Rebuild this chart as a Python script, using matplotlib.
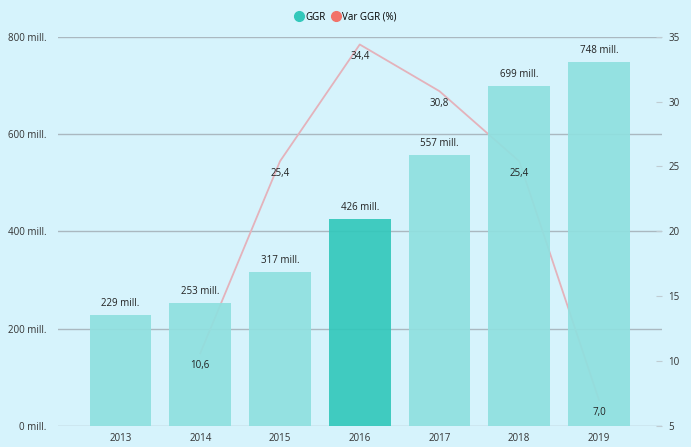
import matplotlib
matplotlib.use("Agg")
import matplotlib.pyplot as plt
from matplotlib.lines import Line2D

years = ["2013", "2014", "2015", "2016", "2017", "2018", "2019"]
ggr = [229, 253, 317, 426, 557, 699, 748]
var_years = ["2014", "2015", "2016", "2017", "2018", "2019"]
var_ggr = [10.6, 25.4, 34.4, 30.8, 25.4, 7.0]
highlight = "2016"

plt.rcParams['font.family'] = ['Open Sans', 'DejaVu Sans']

bg = "#d6f3fc"
bar_col = "#8fe0df"
hi_col = "#33c8bb"
line_col = "#e4b2bb"
grid_col = "#aab8c0"

fig = plt.figure(figsize=(6.91, 4.47), dpi=100, facecolor=bg)
ax = fig.add_axes([57.5/691, 1-426/447, (662-57.5)/691, (426-36.7)/447])
ax.set_facecolor(bg)
ax2 = ax.twinx()

x = list(range(len(years)))
xv = [years.index(y) for y in var_years]

# line behind bars: draw on ax, bars on ax2? -> draw line on ax2 with lower zorder
ax.set_zorder(2)
ax.patch.set_visible(False)
ax2.set_zorder(1)
ax2.patch.set_visible(True)
ax2.set_facecolor(bg)

ax2.plot(xv, var_ggr, color=line_col, lw=1.3, zorder=3)
ax2.set_ylim(5, 35)
ax2.set_yticks([5, 10, 15, 20, 25, 30, 35])
ax2.tick_params(axis='y', direction='in', length=4, color="#c0ccd2", labelsize=7, pad=-2, labelcolor="#333333")
for lab in ax2.get_yticklabels():
    lab.set_x(1.015)
ax2.set_ylabel("Var GGR (%)", fontsize=7, color="#333333", labelpad=12)

colors = [hi_col if y == highlight else bar_col for y in years]
bars = ax.bar(x, ggr, width=0.777, color=colors, alpha=0.92, zorder=3)
ax.set_ylim(0, 800)
ax.set_xlim(-0.79, 6.79)
ax.set_yticks([0, 200, 400, 600, 800])
ax.set_yticklabels([f"{v} mill." for v in [0, 200, 400, 600, 800]])
ax.set_xticks(x)
ax.set_xticklabels(years)
ax.tick_params(axis='both', length=0, labelsize=7, labelcolor="#333333")
ax.tick_params(axis='y', pad=8)
ax.tick_params(axis='x', pad=5)
ax2.grid(False)
# gridlines drawn on ax2 (behind bars)
for v in [0, 200, 400, 600, 800]:
    ax2.axhline(5 + v / 800 * 30, color=grid_col, lw=1, zorder=1)

for s in list(ax.spines.values()) + list(ax2.spines.values()):
    s.set_visible(False)

for xi, v in zip(x, ggr):
    ax.annotate(f"{v} mill.", (xi, v), xytext=(0, 4), textcoords="offset points",
                ha="center", va="bottom", fontsize=7, color="#222222", zorder=5)

ax3 = ax.twinx()
ax3.set_ylim(5, 35)
ax3.axis('off')
ax3.set_zorder(3)
for xi, v in zip(xv, var_ggr):
    ax3.annotate(f"{v:.1f}".replace(".", ","), (xi, v), xytext=(0, -5), textcoords="offset points",
                 ha="center", va="top", fontsize=7, color="#222222")

handles = [Line2D([], [], marker='o', ls='', color=hi_col, markersize=7),
           Line2D([], [], marker='o', ls='', color="#f2736a", markersize=7)]
fig.legend(handles, ["GGR", "Var GGR (%)"], loc="center", bbox_to_anchor=(0.5, 1-17/447),
           ncol=2, frameon=False, fontsize=7, handletextpad=0.1, columnspacing=0.6,
           handlelength=1.0)

fig.savefig("out.png", dpi=100, facecolor=bg)
